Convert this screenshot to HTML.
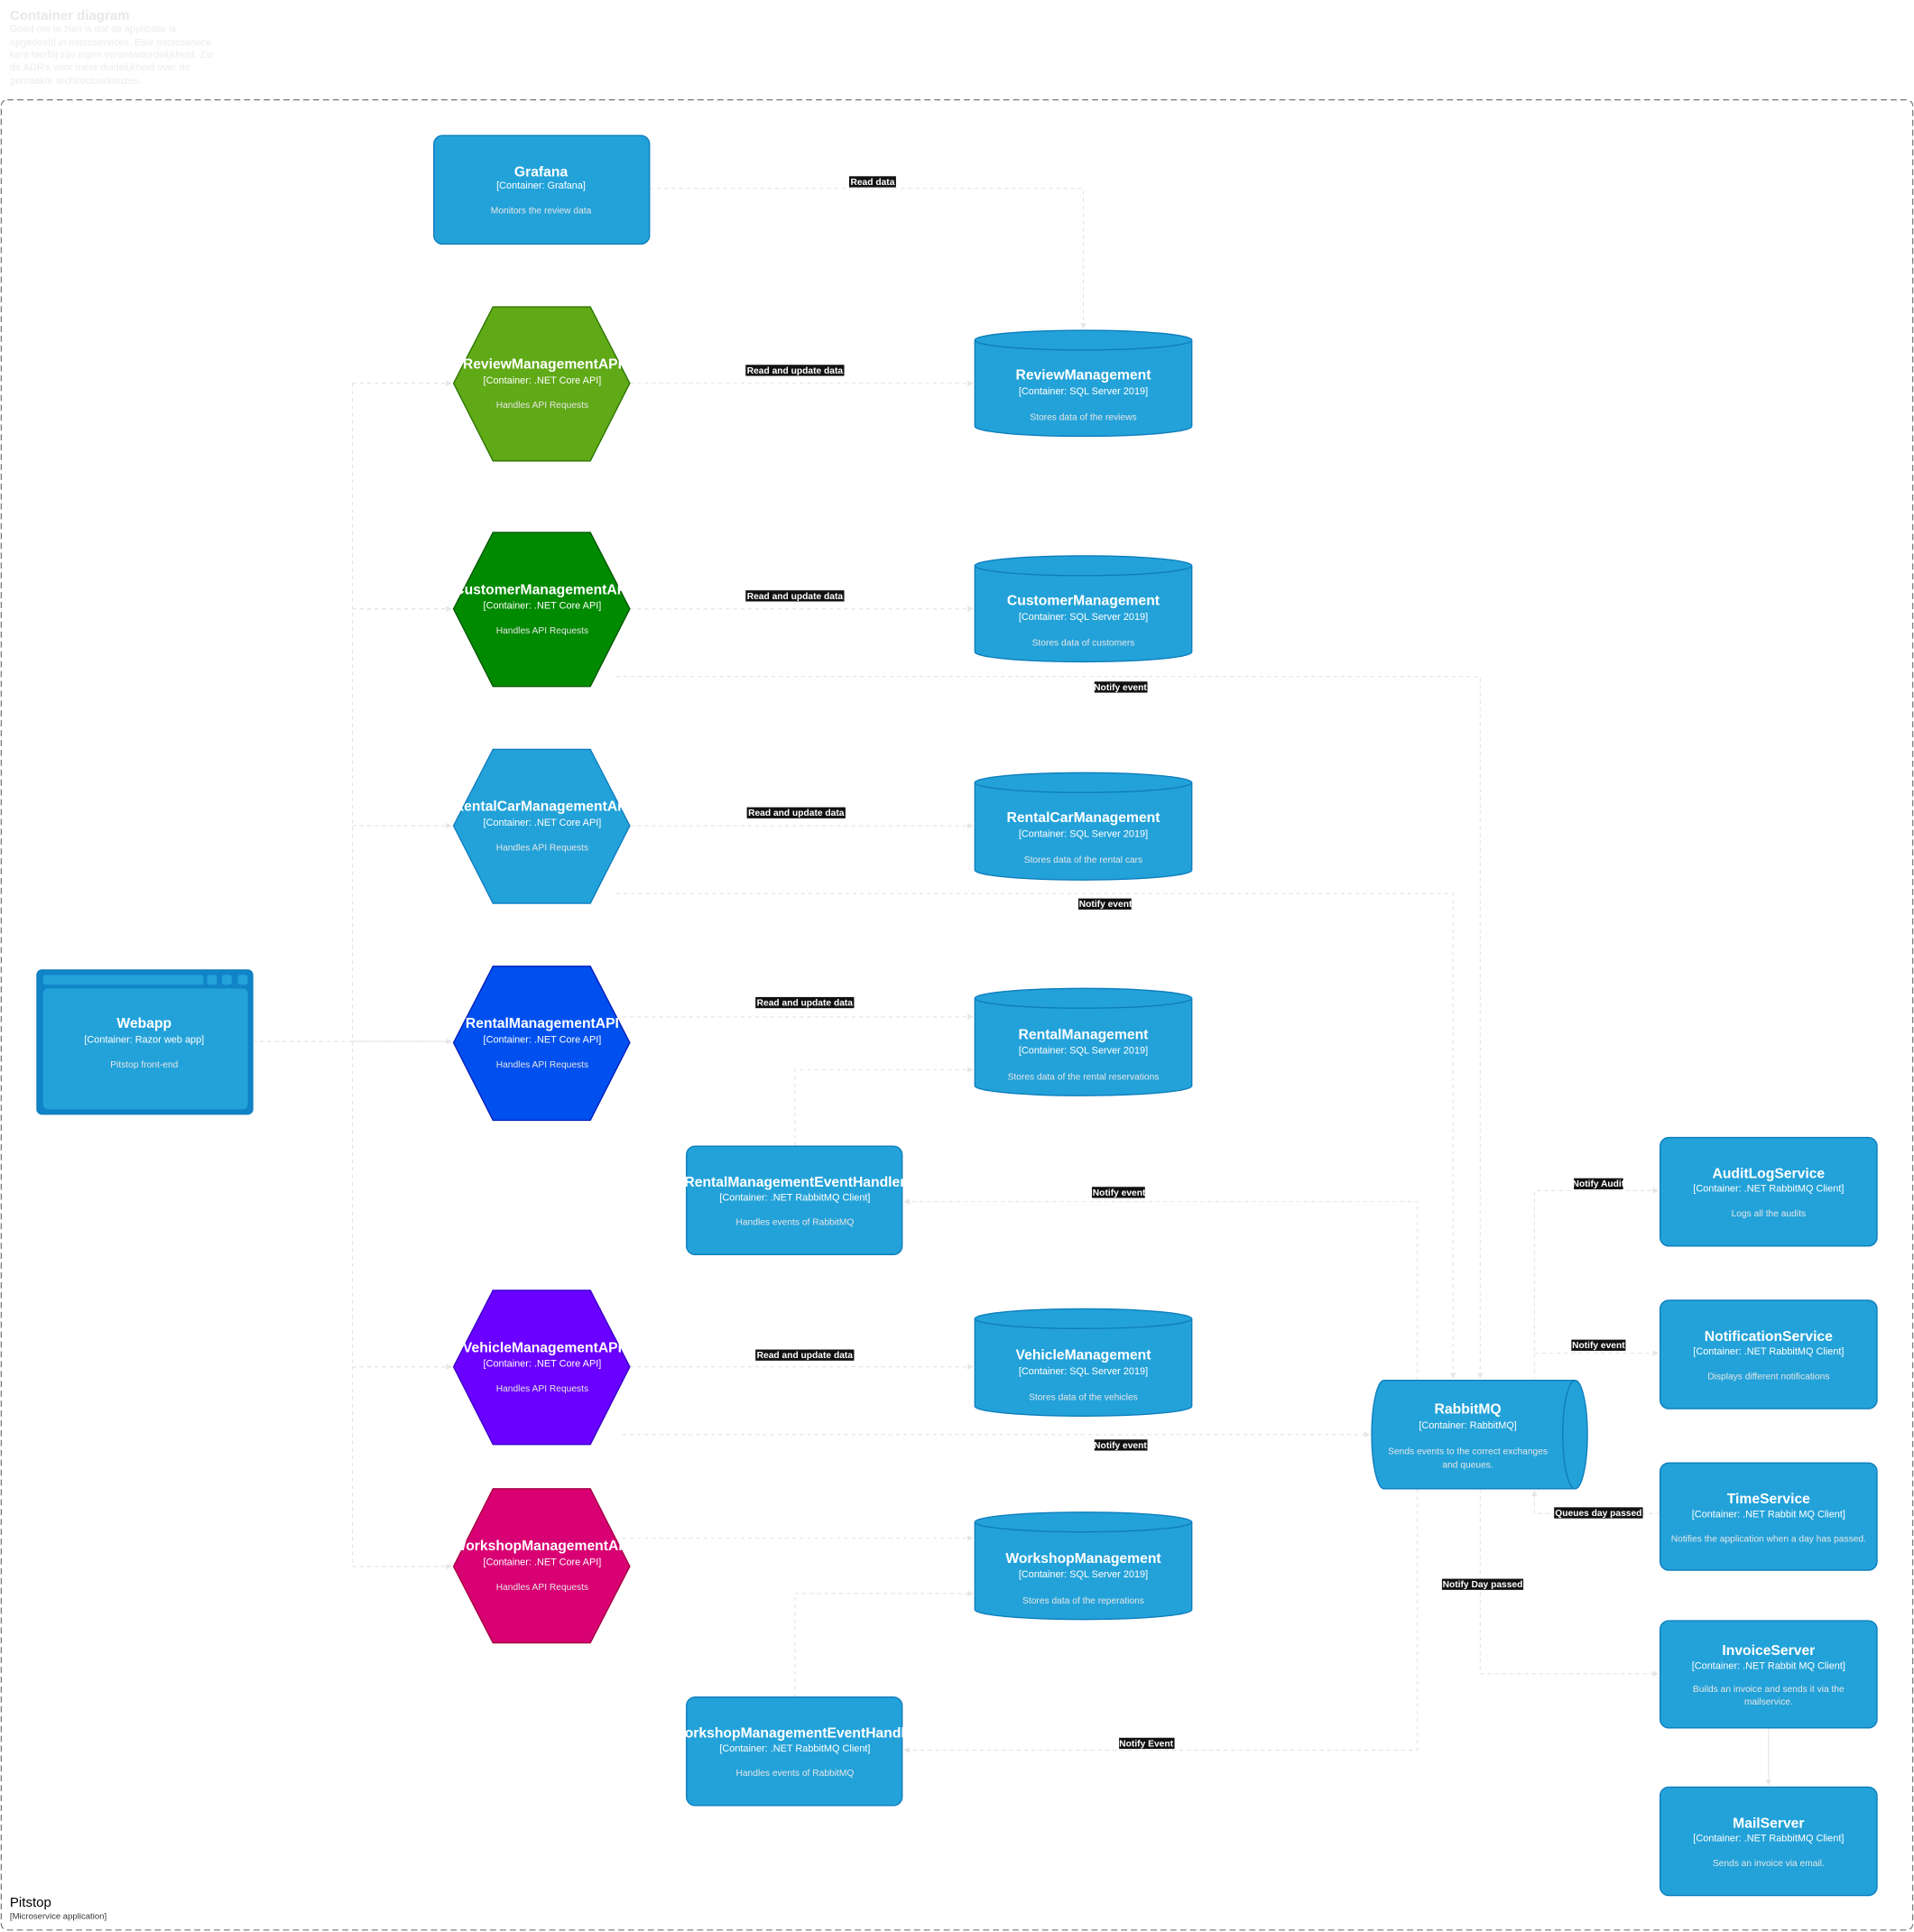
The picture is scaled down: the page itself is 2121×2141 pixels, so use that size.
<!DOCTYPE html>
<html><head><meta charset="utf-8"><style>
html,body{margin:0;padding:0;background:#fff;}
svg{display:block;}
text{font-family:"Liberation Sans",Arial,sans-serif;}
.t{fill:#fff;font-weight:bold;font-size:11.5px;text-anchor:middle;}
.s{fill:#fff;font-size:8px;text-anchor:middle;}
.d{fill:#e6e6e6;font-size:7.5px;text-anchor:middle;}
.ln{fill:none;stroke:#e3e3e3;stroke-width:0.8;stroke-dasharray:3 3;}
.lb{fill:#fff;font-size:7.5px;font-weight:bold;text-anchor:middle;}
.bx{fill:#23a2d9;stroke:#0e7dbd;stroke-width:1;}
</style></head><body>
<svg width="2121" height="2141" viewBox="0 0 1553 1567.6" preserveAspectRatio="none" xmlns="http://www.w3.org/2000/svg">
<defs><marker id="a" markerWidth="6" markerHeight="6" refX="5" refY="3" orient="auto"><path d="M0,0 L6,3 L0,6 z" fill="#e6e6e6"/></marker></defs>
<text x="8" y="16" font-size="11" font-weight="bold" fill="#e8e8e8">Container diagram</text>
<g font-size="8" fill="#ececec"><text x="8" y="26">Goed om te zien is dat de applicatie is</text><text x="8" y="37">opgedeeld in microservices. Elke microservice</text><text x="8" y="47">kent hierbij zijn eigen verantwoordelijkheid. Zie</text><text x="8" y="57">de ADR's voor meer duidelijkheid over de</text><text x="8" y="68">gemaakte architectuurkeuzes.</text></g>
<rect x="1" y="81" width="1551" height="1485" rx="5" fill="none" stroke="#777" stroke-width="0.9" stroke-dasharray="5 3"/>
<text x="8" y="1547" font-size="11" fill="#000">Pitstop</text>
<text x="8" y="1557" font-size="7" fill="#333">[Microservice application]</text>

<!-- connectors -->
<path class="ln" d="M205,845 H286 M286,311 V1271 M286,311 H366 M286,494 H366 M286,670 H366 M286,845 H366 M286,1109 H366 M286,1271 H366" />
<g marker-end="url(#a)"><path class="ln" d="M286,311 H366"/><path class="ln" d="M286,494 H366"/><path class="ln" d="M286,670 H366"/><path class="ln" d="M205,845 H366"/><path class="ln" d="M286,1109 H366"/><path class="ln" d="M286,1271 H366"/>
<path class="ln" d="M527,153 H879 V266"/>
<path class="ln" d="M511,311 H789"/><path class="ln" d="M511,494 H789"/><path class="ln" d="M511,670 H789"/><path class="ln" d="M505,825 H789"/><path class="ln" d="M511,1109 H789"/><path class="ln" d="M505,1248 H789"/>
<path class="ln" d="M500,549 H1201 V1118"/><path class="ln" d="M500,725 H1179 V1118"/>
<path class="ln" d="M645,930 V868 H789"/><path class="ln" d="M645,1377 V1293 H789"/>
<path class="ln" d="M1150,1120 V975 H734"/><path class="ln" d="M1150,1208 V1420 H734"/>
<path class="ln" d="M505,1164 H1111"/>
<path class="ln" d="M1245,1120 V966 H1345"/><path class="ln" d="M1245,1098 H1345"/>
<path class="ln" d="M1347,1228 H1245 V1210"/><path class="ln" d="M1201,1208 V1358 H1345"/>
<path d="M1435,1402 V1448" stroke="#e3e3e3" stroke-width="0.8" fill="none"/></g>

<!-- labels -->
<g><rect x="689" y="143" width="38" height="9" fill="#111"/><text class="lb" x="708" y="150">Read data</text>
<rect x="605" y="296" width="80" height="9" fill="#111"/><text class="lb" x="645" y="303">Read and update data</text>
<rect x="605" y="479" width="80" height="9" fill="#111"/><text class="lb" x="645" y="486">Read and update data</text>
<rect x="606" y="655" width="80" height="9" fill="#111"/><text class="lb" x="646" y="662">Read and update data</text>
<rect x="613" y="809" width="80" height="9" fill="#111"/><text class="lb" x="653" y="816">Read and update data</text>
<rect x="613" y="1095" width="80" height="9" fill="#111"/><text class="lb" x="653" y="1102">Read and update data</text>
<rect x="888" y="553" width="43" height="9" fill="#111"/><text class="lb" x="909" y="560">Notify event</text>
<rect x="875" y="729" width="43" height="9" fill="#111"/><text class="lb" x="897" y="736">Notify event</text>
<rect x="886" y="963" width="43" height="9" fill="#111"/><text class="lb" x="908" y="970">Notify event</text>
<rect x="888" y="1168" width="43" height="9" fill="#111"/><text class="lb" x="909" y="1175">Notify event</text>
<rect x="908" y="1410" width="45" height="9" fill="#111"/><text class="lb" x="930" y="1417">Notify Event</text>
<rect x="1277" y="956" width="40" height="9" fill="#111"/><text class="lb" x="1297" y="963">Notify Audit</text>
<rect x="1275" y="1087" width="44" height="9" fill="#111"/><text class="lb" x="1297" y="1094">Notify event</text>
<rect x="1261" y="1223" width="72" height="9" fill="#111"/><text class="lb" x="1297" y="1230">Queues day passed</text>
<rect x="1170" y="1281" width="66" height="9" fill="#111"/><text class="lb" x="1203" y="1288">Notify Day passed</text></g>

<!-- Grafana -->
<rect class="bx" x="352" y="110" width="175" height="88" rx="7"/>
<text class="t" x="439" y="143">Grafana</text><text class="s" x="439" y="153">[Container: Grafana]</text><text class="d" x="439" y="173">Monitors the review data</text>

<!-- Hexagons -->
<g>
<polygon points="368,311 400,249 479,249 511,311 479,374 400,374" fill="#60a917" stroke="#2d7600"/>
<text class="t" x="440" y="299">ReviewManagementAPI</text><text class="s" x="440" y="311">[Container: .NET Core API]</text><text class="d" x="440" y="331">Handles API Requests</text>
<polygon points="368,494 400,432 479,432 511,494 479,557 400,557" fill="#008a00" stroke="#005700"/>
<text class="t" x="440" y="482">CustomerManagementAPI</text><text class="s" x="440" y="494">[Container: .NET Core API]</text><text class="d" x="440" y="514">Handles API Requests</text>
<polygon points="368,670 400,608 479,608 511,670 479,733 400,733" fill="#23a2d9" stroke="#0e7dbd"/>
<text class="t" x="440" y="658">RentalCarManagementAPI</text><text class="s" x="440" y="670">[Container: .NET Core API]</text><text class="d" x="440" y="690">Handles API Requests</text>
<polygon points="368,846 400,784 479,784 511,846 479,909 400,909" fill="#0050ef" stroke="#001dbc"/>
<text class="t" x="440" y="834">RentalManagementAPI</text><text class="s" x="440" y="846">[Container: .NET Core API]</text><text class="d" x="440" y="866">Handles API Requests</text>
<polygon points="368,1109 400,1047 479,1047 511,1109 479,1172 400,1172" fill="#6a00ff" stroke="#3700cc"/>
<text class="t" x="440" y="1097">VehicleManagementAPI</text><text class="s" x="440" y="1109">[Container: .NET Core API]</text><text class="d" x="440" y="1129">Handles API Requests</text>
<polygon points="368,1271 400,1208 479,1208 511,1271 479,1333 400,1333" fill="#d80073" stroke="#a50040"/>
<text class="t" x="440" y="1258">WorkshopManagementAPI</text><text class="s" x="440" y="1270">[Container: .NET Core API]</text><text class="d" x="440" y="1290">Handles API Requests</text>
</g>

<!-- Cylinders -->
<g id="cyl">
<path class="bx" d="M791,276 A88,8 0 0 1 967,276 V346 A88,8 0 0 1 791,346 Z"/><path d="M791,276 A88,8 0 0 0 967,276" fill="none" stroke="#0e7dbd"/>
<text class="t" x="879" y="308">ReviewManagement</text><text class="s" x="879" y="320">[Container: SQL Server 2019]</text><text class="d" x="879" y="341">Stores data of the reviews</text>
<path class="bx" d="M791,459 A88,8 0 0 1 967,459 V529 A88,8 0 0 1 791,529 Z"/><path d="M791,459 A88,8 0 0 0 967,459" fill="none" stroke="#0e7dbd"/>
<text class="t" x="879" y="491">CustomerManagement</text><text class="s" x="879" y="503">[Container: SQL Server 2019]</text><text class="d" x="879" y="524">Stores data of customers</text>
<path class="bx" d="M791,635 A88,8 0 0 1 967,635 V706 A88,8 0 0 1 791,706 Z"/><path d="M791,635 A88,8 0 0 0 967,635" fill="none" stroke="#0e7dbd"/>
<text class="t" x="879" y="667">RentalCarManagement</text><text class="s" x="879" y="679">[Container: SQL Server 2019]</text><text class="d" x="879" y="700">Stores data of the rental cars</text>
<path class="bx" d="M791,810 A88,8 0 0 1 967,810 V881 A88,8 0 0 1 791,881 Z"/><path d="M791,810 A88,8 0 0 0 967,810" fill="none" stroke="#0e7dbd"/>
<text class="t" x="879" y="843">RentalManagement</text><text class="s" x="879" y="855">[Container: SQL Server 2019]</text><text class="d" x="879" y="876">Stores data of the rental reservations</text>
<path class="bx" d="M791,1070 A88,8 0 0 1 967,1070 V1141 A88,8 0 0 1 791,1141 Z"/><path d="M791,1070 A88,8 0 0 0 967,1070" fill="none" stroke="#0e7dbd"/>
<text class="t" x="879" y="1103">VehicleManagement</text><text class="s" x="879" y="1115">[Container: SQL Server 2019]</text><text class="d" x="879" y="1136">Stores data of the vehicles</text>
<path class="bx" d="M791,1235 A88,8 0 0 1 967,1235 V1306 A88,8 0 0 1 791,1306 Z"/><path d="M791,1235 A88,8 0 0 0 967,1235" fill="none" stroke="#0e7dbd"/>
<text class="t" x="879" y="1268">WorkshopManagement</text><text class="s" x="879" y="1280">[Container: SQL Server 2019]</text><text class="d" x="879" y="1301">Stores data of the reperations</text>
</g>

<!-- Event handlers -->
<rect class="bx" x="557" y="930" width="175" height="88" rx="7"/>
<text class="t" x="645" y="963">RentalManagementEventHandler</text><text class="s" x="645" y="974">[Container: .NET RabbitMQ Client]</text><text class="d" x="645" y="994">Handles events of RabbitMQ</text>
<rect class="bx" x="557" y="1377" width="175" height="88" rx="7"/>
<text class="t" x="645" y="1410">WorkshopManagementEventHandler</text><text class="s" x="645" y="1421">[Container: .NET RabbitMQ Client]</text><text class="d" x="645" y="1441">Handles events of RabbitMQ</text>

<!-- Webapp -->
<rect x="30" y="787" width="175" height="117" rx="4" fill="#1184c7" stroke="#0e7dbd"/>
<rect x="35" y="791" width="130" height="8" rx="2" fill="#23a2d9"/>
<rect x="168" y="791" width="8" height="8" rx="2" fill="#23a2d9"/><rect x="180" y="791" width="8" height="8" rx="2" fill="#23a2d9"/><rect x="193" y="791" width="8" height="8" rx="2" fill="#23a2d9"/>
<rect x="35" y="802" width="166" height="98" rx="4" fill="#23a2d9"/>
<text class="t" x="117" y="834">Webapp</text><text class="s" x="117" y="846">[Container: Razor web app]</text><text class="d" x="117" y="866">Pitstop front-end</text>

<!-- RabbitMQ -->
<path class="bx" d="M1123,1120 H1278 A10,44 0 0 1 1278,1208 H1123 A10,44 0 0 1 1123,1120 Z"/>
<path d="M1278,1120 A10,44 0 0 0 1278,1208" fill="none" stroke="#0e7dbd"/>
<text class="t" x="1191" y="1147">RabbitMQ</text><text class="s" x="1191" y="1159">[Container: RabbitMQ]</text><text class="d" x="1191" y="1180">Sends events to the correct exchanges</text><text class="d" x="1191" y="1191">and queues.</text>

<!-- Right services -->
<rect class="bx" x="1347" y="923" width="176" height="88" rx="7"/>
<text class="t" x="1435" y="956">AuditLogService</text><text class="s" x="1435" y="967">[Container: .NET RabbitMQ Client]</text><text class="d" x="1435" y="987">Logs all the audits</text>
<rect class="bx" x="1347" y="1055" width="176" height="88" rx="7"/>
<text class="t" x="1435" y="1088">NotificationService</text><text class="s" x="1435" y="1099">[Container: .NET RabbitMQ Client]</text><text class="d" x="1435" y="1119">Displays different notifications</text>
<rect class="bx" x="1347" y="1187" width="176" height="87" rx="7"/>
<text class="t" x="1435" y="1220">TimeService</text><text class="s" x="1435" y="1231">[Container: .NET Rabbit MQ Client]</text><text class="d" x="1435" y="1251">Notifies the application when a day has passed.</text>
<rect class="bx" x="1347" y="1315" width="176" height="87" rx="7"/>
<text class="t" x="1435" y="1343">InvoiceServer</text><text class="s" x="1435" y="1354">[Container: .NET Rabbit MQ Client]</text><text class="d" x="1435" y="1373">Builds an invoice and sends it via the</text><text class="d" x="1435" y="1383">mailservice.</text>
<rect class="bx" x="1347" y="1450" width="176" height="88" rx="7"/>
<text class="t" x="1435" y="1483">MailServer</text><text class="s" x="1435" y="1494">[Container: .NET RabbitMQ Client]</text><text class="d" x="1435" y="1514">Sends an invoice via email.</text>
</svg>
</body></html>
